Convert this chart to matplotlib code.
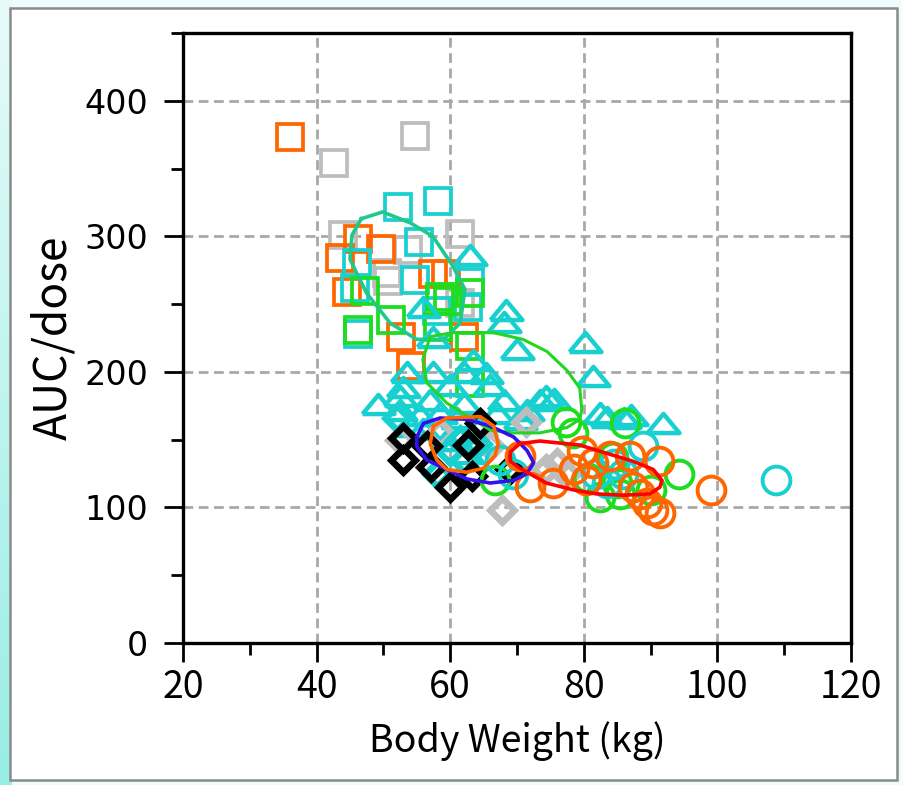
import numpy as np
import matplotlib
matplotlib.use("Agg")
import matplotlib.pyplot as plt
from matplotlib.patches import Rectangle
from matplotlib.ticker import MultipleLocator

# ---- data (body weight kg, AUC/dose) ----
sq_orange_x = [36.0, 46.2, 43.5, 44.5, 49.7, 57.4, 59.3, 52.7, 62.0, 54.2]
sq_orange_y = [373, 298, 284, 259, 291, 272, 272, 226, 226, 204]
sq_gray_x = [42.6, 54.7, 44.0, 61.4, 53.7, 50.5, 50.7, 61.5]
sq_gray_y = [354, 374, 301, 302, 290, 273, 267, 251]
sq_cyan_x = [52.2, 58.2, 55.3, 46.0, 45.7, 54.8, 63.0, 62.7, 46.2, 58.0]
sq_cyan_y = [322, 326, 296, 280, 262, 268, 266, 248, 228, 245]
sq_green_x = [46.2, 47.2, 51.2, 58.2, 59.7, 63.0, 63.0, 63.0, 58.5]
sq_green_y = [231, 260, 238, 233, 252, 258, 219, 192, 255]

tri_x = [63.0, 56.0, 68.4, 68.0, 70.0, 57.4, 63.4, 53.5, 53.0, 65.4, 80.2, 81.4,
         74.4, 75.5, 82.4, 83.4, 91.9, 52.5, 68.0, 73.4, 57.0, 62.0, 52.5, 55.5,
         58.5, 61.0, 70.4, 66.0, 60.0, 56.0, 59.5, 62.5, 57.5, 62.0, 49.2, 64.5,
         67.0, 71.5, 54.0, 87.0, 86.0]
tri_y = [286, 248, 246, 237, 217, 226, 209, 200, 189, 199, 222, 197,
         182, 180, 170, 167, 162, 182, 179, 179, 179, 177, 172, 168,
         170, 166, 165, 190, 190, 158, 150, 140, 200, 200, 176, 160,
         170, 172, 160, 168, 166]

dm_cyan_x = [52.0, 61.5, 64.0, 62.0, 58.0, 60.0]
dm_cyan_y = [166, 150, 147, 135, 125, 142]
dm_black_x = [53.0, 53.0, 57.2, 60.0, 63.2, 64.5, 69.0, 62.7, 56.5]
dm_black_y = [151, 135, 130, 115, 123, 162, 128, 146, 145]
dm_gray_x = [52.5, 71.4, 67.7, 58.5, 76.0, 77.4, 74.4, 66.0]
dm_gray_y = [150, 163, 98, 155, 133, 125, 128, 145]

ci_green_x = [77.4, 86.2, 94.2, 82.4, 78.4, 90.0, 85.0, 84.4, 66.7, 85.4, 80.6]
ci_green_y = [163, 162, 125, 108, 155, 113, 118, 137, 120, 110, 122]
ci_orange_x = [99.1, 91.2, 83.9, 86.9, 80.4, 81.4, 88.4, 90.4, 91.4, 79.7, 87.4,
               89.4, 70.4, 72.0, 75.4, 78.5]
ci_orange_y = [113, 134, 138, 138, 120, 133, 110, 98, 96, 142, 115,
               103, 138, 115, 118, 128]
ci_cyan_x = [108.8, 88.9, 85.9, 83.4, 81.9, 69.4, 67.5, 84.5]
ci_cyan_y = [120, 145, 125, 118, 125, 125, 135, 132]

# density contours
ct_teal_x = [46.7, 49.9, 54.0, 57.4, 60.4, 62.2, 61.5, 59.0, 55.0, 51.0, 47.5, 45.0, 45.3, 46.7]
ct_teal_y = [313, 318, 310, 300, 278, 261, 236, 224, 224, 236, 258, 283, 301, 313]
ct_green_x = [57.0, 60.4, 66.4, 70.9, 74.5, 77.5, 79.4, 79.7, 79.4, 77.5, 73.4, 69.4,
              66.0, 63.4, 59.5, 56.5, 55.9, 57.0]
ct_green_y = [226, 229, 229, 224, 215, 201, 188, 172, 165, 159, 155, 155,
              157, 165, 177, 192, 209, 226]
ct_blue_x = [55.0, 56.0, 58.5, 62.5, 66.0, 69.5, 71.5, 72.5, 71.5, 69.5, 66.0, 62.5,
             59.5, 56.5, 55.0, 55.0]
ct_blue_y = [152, 162, 166, 165, 160, 152, 142, 133, 125, 120, 118, 121,
             128, 135, 145, 152]
ct_orange_x = [57.5, 59.5, 64.5, 66.5, 67.2, 66.7, 65.0, 62.5, 59.5, 58.0, 57.0, 57.5]
ct_orange_y = [160, 166, 167, 160, 147, 138, 129, 126, 128, 135, 147, 160]
ct_red_x = [70.4, 73.4, 79.4, 83.4, 87.4, 90.4, 91.7, 91.4, 89.9, 85.9, 81.9, 78.4,
            74.4, 70.4, 69.0, 69.0, 70.4]
ct_red_y = [147, 149, 146, 140, 134, 128, 120, 115, 110, 109, 110, 113,
            118, 129, 134, 141, 147]

ORANGE = '#ff6600'
GRAY = '#bdbdbd'
CYAN = '#19d0d0'
GREEN = '#1edc1e'

fig = plt.figure(figsize=(9.03, 7.85), dpi=100, facecolor='#effcfb')

# background: cyan strip on the left, white panel with gray border
bg = fig.add_axes([0, 0, 1, 1], zorder=-5)
bg.axis('off')
grad = np.linspace(0.0, 1.0, 200).reshape(-1, 1)
bg.imshow(grad, extent=[0, 12 / 903, 0, 1], aspect='auto',
          cmap=matplotlib.colors.LinearSegmentedColormap.from_list('c', ['#e6fbf9', '#98ede5']),
          origin='upper', transform=bg.transAxes)
bg.set_xlim(0, 1)
bg.set_ylim(0, 1)
bg.add_patch(Rectangle((10 / 903, 5 / 785), 887 / 903, 772 / 785, transform=bg.transAxes,
                       facecolor='white', edgecolor='#8a8a8a', lw=1.8))

ax = fig.add_axes([183 / 903, 1 - 643 / 785, 668 / 903, 610 / 785])

sq_kw = dict(marker='s', ms=18.5, mfc='none', mew=2.7, ls='none')
ax.plot(sq_gray_x, sq_gray_y, mec=GRAY, **sq_kw)
ax.plot(sq_orange_x, sq_orange_y, mec=ORANGE, **sq_kw)
ax.plot(sq_cyan_x, sq_cyan_y, mec=CYAN, **sq_kw)
ax.plot(sq_green_x, sq_green_y, mec=GREEN, **sq_kw)

tri_marker = [(-1, -0.6), (1, -0.6), (0, 0.6), (-1, -0.6)]
ax.plot(tri_x, tri_y, marker=tri_marker, ms=23, mfc='none', mec=CYAN, mew=3.2, ls='none')

dm_kw = dict(marker='D', ms=12.5, mfc='none', mew=4.8, ls='none')
ax.plot(dm_gray_x, dm_gray_y, mec=GRAY, **dm_kw)
ax.plot(dm_cyan_x, dm_cyan_y, mec=CYAN, **dm_kw)
ax.plot(dm_black_x, dm_black_y, mec='black', **dm_kw)

ci_kw = dict(marker='o', ms=20, mfc='none', mew=2.8, ls='none')
ax.plot(ci_green_x, ci_green_y, mec=GREEN, **ci_kw)
ax.plot(ci_cyan_x, ci_cyan_y, mec=CYAN, **ci_kw)
ax.plot(ci_orange_x, ci_orange_y, mec=ORANGE, **ci_kw)

ax.plot(ct_teal_x, ct_teal_y, color='#1fc98c', lw=2.6)
ax.plot(ct_green_x, ct_green_y, color='#22d622', lw=2.2)
ax.plot(ct_blue_x, ct_blue_y, color='#3310ee', lw=2.6)
ax.plot(ct_orange_x, ct_orange_y, color=ORANGE, lw=2.6)
ax.plot(ct_red_x, ct_red_y, color='#ff0000', lw=2.6)

ax.set_xlim(20, 120)
ax.set_ylim(0, 450)
ax.xaxis.set_major_locator(MultipleLocator(20))
ax.xaxis.set_minor_locator(MultipleLocator(10))
ax.yaxis.set_major_locator(MultipleLocator(100))
ax.yaxis.set_minor_locator(MultipleLocator(50))
ax.grid(True, which='major', color='#a8a8a8', ls=(0, (3.5, 2)), lw=2.0)
ax.set_axisbelow(True)

for s in ax.spines.values():
    s.set_linewidth(2.4)
ax.tick_params(which='major', direction='out', length=14, width=2.0)
ax.tick_params(which='minor', direction='out', length=8.5, width=2.0)
ax.tick_params(axis='y', which='major', pad=11)
ax.tick_params(axis='x', which='major', pad=4)

gothic = ['Noto Sans CJK JP', 'DejaVu Sans']
for lab in ax.get_xticklabels():
    lab.set_family(gothic)
    lab.set_fontsize(27)
for lab in ax.get_yticklabels():
    lab.set_family('DejaVu Sans')
    lab.set_fontsize(24)

ax.set_xlabel('Body Weight (kg)', family=gothic, fontsize=27, labelpad=10)
ax.set_ylabel('AUC/dose', family=gothic, fontsize=32, labelpad=6)

fig.savefig('out.png', dpi=100, facecolor=fig.get_facecolor())
